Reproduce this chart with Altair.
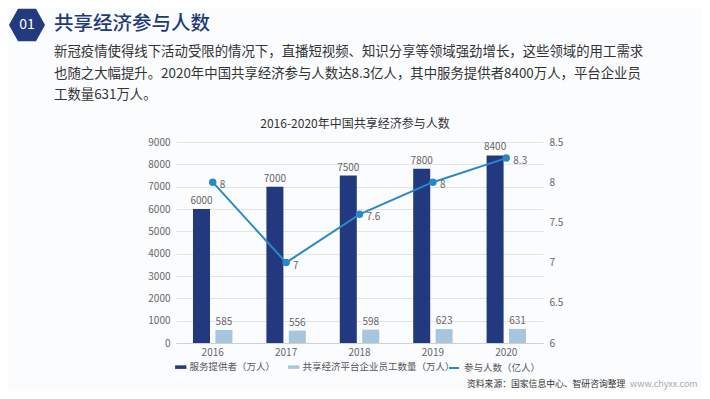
import altair as alt
import pandas as pd

years = ["2016", "2017", "2018", "2019", "2020"]
providers = [6000, 7000, 7500, 7800, 8400]
employees = [585, 556, 598, 623, 631]
participants = [8, 7, 7.6, 8, 8.3]

s_prov = "服务提供者（万人）"
s_emp = "共享经济平台企业员工数量（万人）"
s_part = "参与人数（亿人）"

chart_title = "2016-2020年中国共享经济参与人数"
header_no = "01"
header_title = "共享经济参与人数"
para_lines = [
    "新冠疫情使得线下活动受限的情况下，直播短视频、知识分享等领域强劲增长，这些领域的用工需求",
    "也随之大幅提升。2020年中国共享经济参与人数达8.3亿人，其中服务提供者8400万人，平台企业员",
    "工数量631万人。",
]
source_text = "资料来源：国家信息中心、智研咨询整理"
site_text = "www.chyxx.com"

FONT = "Noto Sans CJK SC"
DARK = "#22387f"
LIGHT = "#a9c5dd"
LINE = "#2a88c8"

bars_df = pd.DataFrame({
    "year": years * 2,
    "series": [s_prov] * len(years) + [s_emp] * len(years),
    "value": providers + employees,
})
line_df = pd.DataFrame({"year": years, "series": [s_part] * len(years), "value": participants})

x_enc = alt.X("year:N", title=None, sort=years,
              scale=alt.Scale(paddingInner=0.42, paddingOuter=0.21),
              axis=alt.Axis(labelAngle=0, labelFontSize=10, labelColor="#666", ticks=False,
                            domainColor="#d0d0d0", labelPadding=4, labelFont=FONT))

y_left = alt.Y("value:Q", title=None,
               scale=alt.Scale(domain=[0, 9000], nice=False),
               axis=alt.Axis(values=list(range(0, 9001, 1000)), format="d", labelFontSize=10,
                             labelColor="#666", ticks=False, domain=False, gridColor="#e4e4e4",
                             labelPadding=6, labelFont=FONT, labelOverlap=False))

xoff = alt.XOffset("series:N", sort=[s_prov, s_emp], scale=alt.Scale(paddingInner=0.1))

bars = alt.Chart(bars_df).mark_bar(size=17).encode(
    x=x_enc,
    xOffset=xoff,
    y=y_left,
    color=alt.Color("series:N", sort=[s_prov, s_emp],
                    scale=alt.Scale(domain=[s_prov, s_emp], range=[DARK, LIGHT]),
                    legend=alt.Legend(title=None, orient="none", legendX=0, legendY=220,
                                      direction="horizontal", symbolType="M-1.6,-0.5H1.6V0.5H-1.6Z",
                                      symbolSize=50, labelFontSize=9.5, labelColor="#555", labelFont=FONT,
                                      columnPadding=12, symbolStrokeWidth=0, labelLimit=300)),
)
bar_labels = alt.Chart(bars_df).mark_text(dy=-8, fontSize=10, color="#666", font=FONT).encode(
    x=x_enc,
    xOffset=xoff,
    y=y_left,
    text="value:Q",
)

y_right = alt.Y("value:Q", title=None,
                scale=alt.Scale(domain=[6, 8.5], nice=False, zero=False),
                axis=alt.Axis(orient="right", values=[6, 6.5, 7, 7.5, 8, 8.5], labelExpr="datum.value + ''",
                              labelFontSize=10, labelColor="#666", ticks=False, domain=False, grid=False,
                              labelPadding=6, labelFont=FONT, labelOverlap=False))

line = alt.Chart(line_df).mark_line(strokeWidth=2, point=alt.OverlayMarkDef(size=30, filled=True, color=LINE)).encode(
    x=x_enc,
    y=y_right,
    stroke=alt.Stroke("series:N", scale=alt.Scale(domain=[s_part], range=[LINE]),
                      legend=alt.Legend(title=None, orient="none", legendX=272, legendY=220,
                                        labelFontSize=9.5, labelColor="#555", labelFont=FONT,
                                        symbolType="stroke", symbolStrokeWidth=2)),
)
line_labels = alt.Chart(line_df).mark_text(align="left", dx=7, dy=3, fontSize=10, color="#666", font=FONT).encode(
    x=x_enc,
    y=y_right,
    text="value:Q",
)

hex_path = "M-0.5,-0.9L0.5,-0.9L1,0L0.5,0.9L-0.5,0.9L-1,0Z"
hdr_df = pd.DataFrame({"k": [0]})
hexagon = alt.Chart(hdr_df).mark_point(shape=hex_path, size=1300, filled=True, color="#243a7e", opacity=1).encode(
    x=alt.value(-149), y=alt.value(-117))
hex_txt = alt.Chart(hdr_df).mark_text(text=header_no, color="white", fontSize=14, font=FONT).encode(
    x=alt.value(-149), y=alt.value(-117))
title_txt = alt.Chart(hdr_df).mark_text(text=header_title, color="#1f3a7a", fontSize=19.5, fontWeight=500,
                                         align="left", baseline="middle", font=FONT).encode(
    x=alt.value(-122), y=alt.value(-118))
para = []
for i, t in enumerate(para_lines):
    para.append(alt.Chart(hdr_df).mark_text(text=t, color="#333", fontSize=13.4, align="left",
                                             baseline="middle", font=FONT).encode(
        x=alt.value(-122), y=alt.value(-90 + i * 21.5)))
ctitle = alt.Chart(hdr_df).mark_text(text=chart_title, color="#333", fontSize=12, baseline="middle",
                                      font=FONT).encode(x=alt.value(179), y=alt.value(-18))
src = alt.Chart(hdr_df).mark_text(text=source_text, color="#333", fontSize=8.8, align="left",
                                   baseline="middle", font=FONT).encode(x=alt.value(291), y=alt.value(242))
site = alt.Chart(hdr_df).mark_text(text=site_text, color="#aaa", fontSize=9, align="left",
                                    baseline="middle", font=FONT).encode(x=alt.value(454), y=alt.value(242))

chart = alt.layer(
    alt.layer(bars, bar_labels),
    alt.layer(line, line_labels),
    hexagon, hex_txt, title_txt, *para, ctitle, src, site,
).resolve_scale(y="independent", color="independent").properties(
    width=367, height=201,
    autosize=alt.AutoSizeParams(type="none"),
    padding={"left": 168, "top": 134, "right": 159, "bottom": 48},
    background="#fbfcfe",
).configure_view(stroke=None)

chart.save("out.html", embed_options={"renderer": "svg", "actions": False})
